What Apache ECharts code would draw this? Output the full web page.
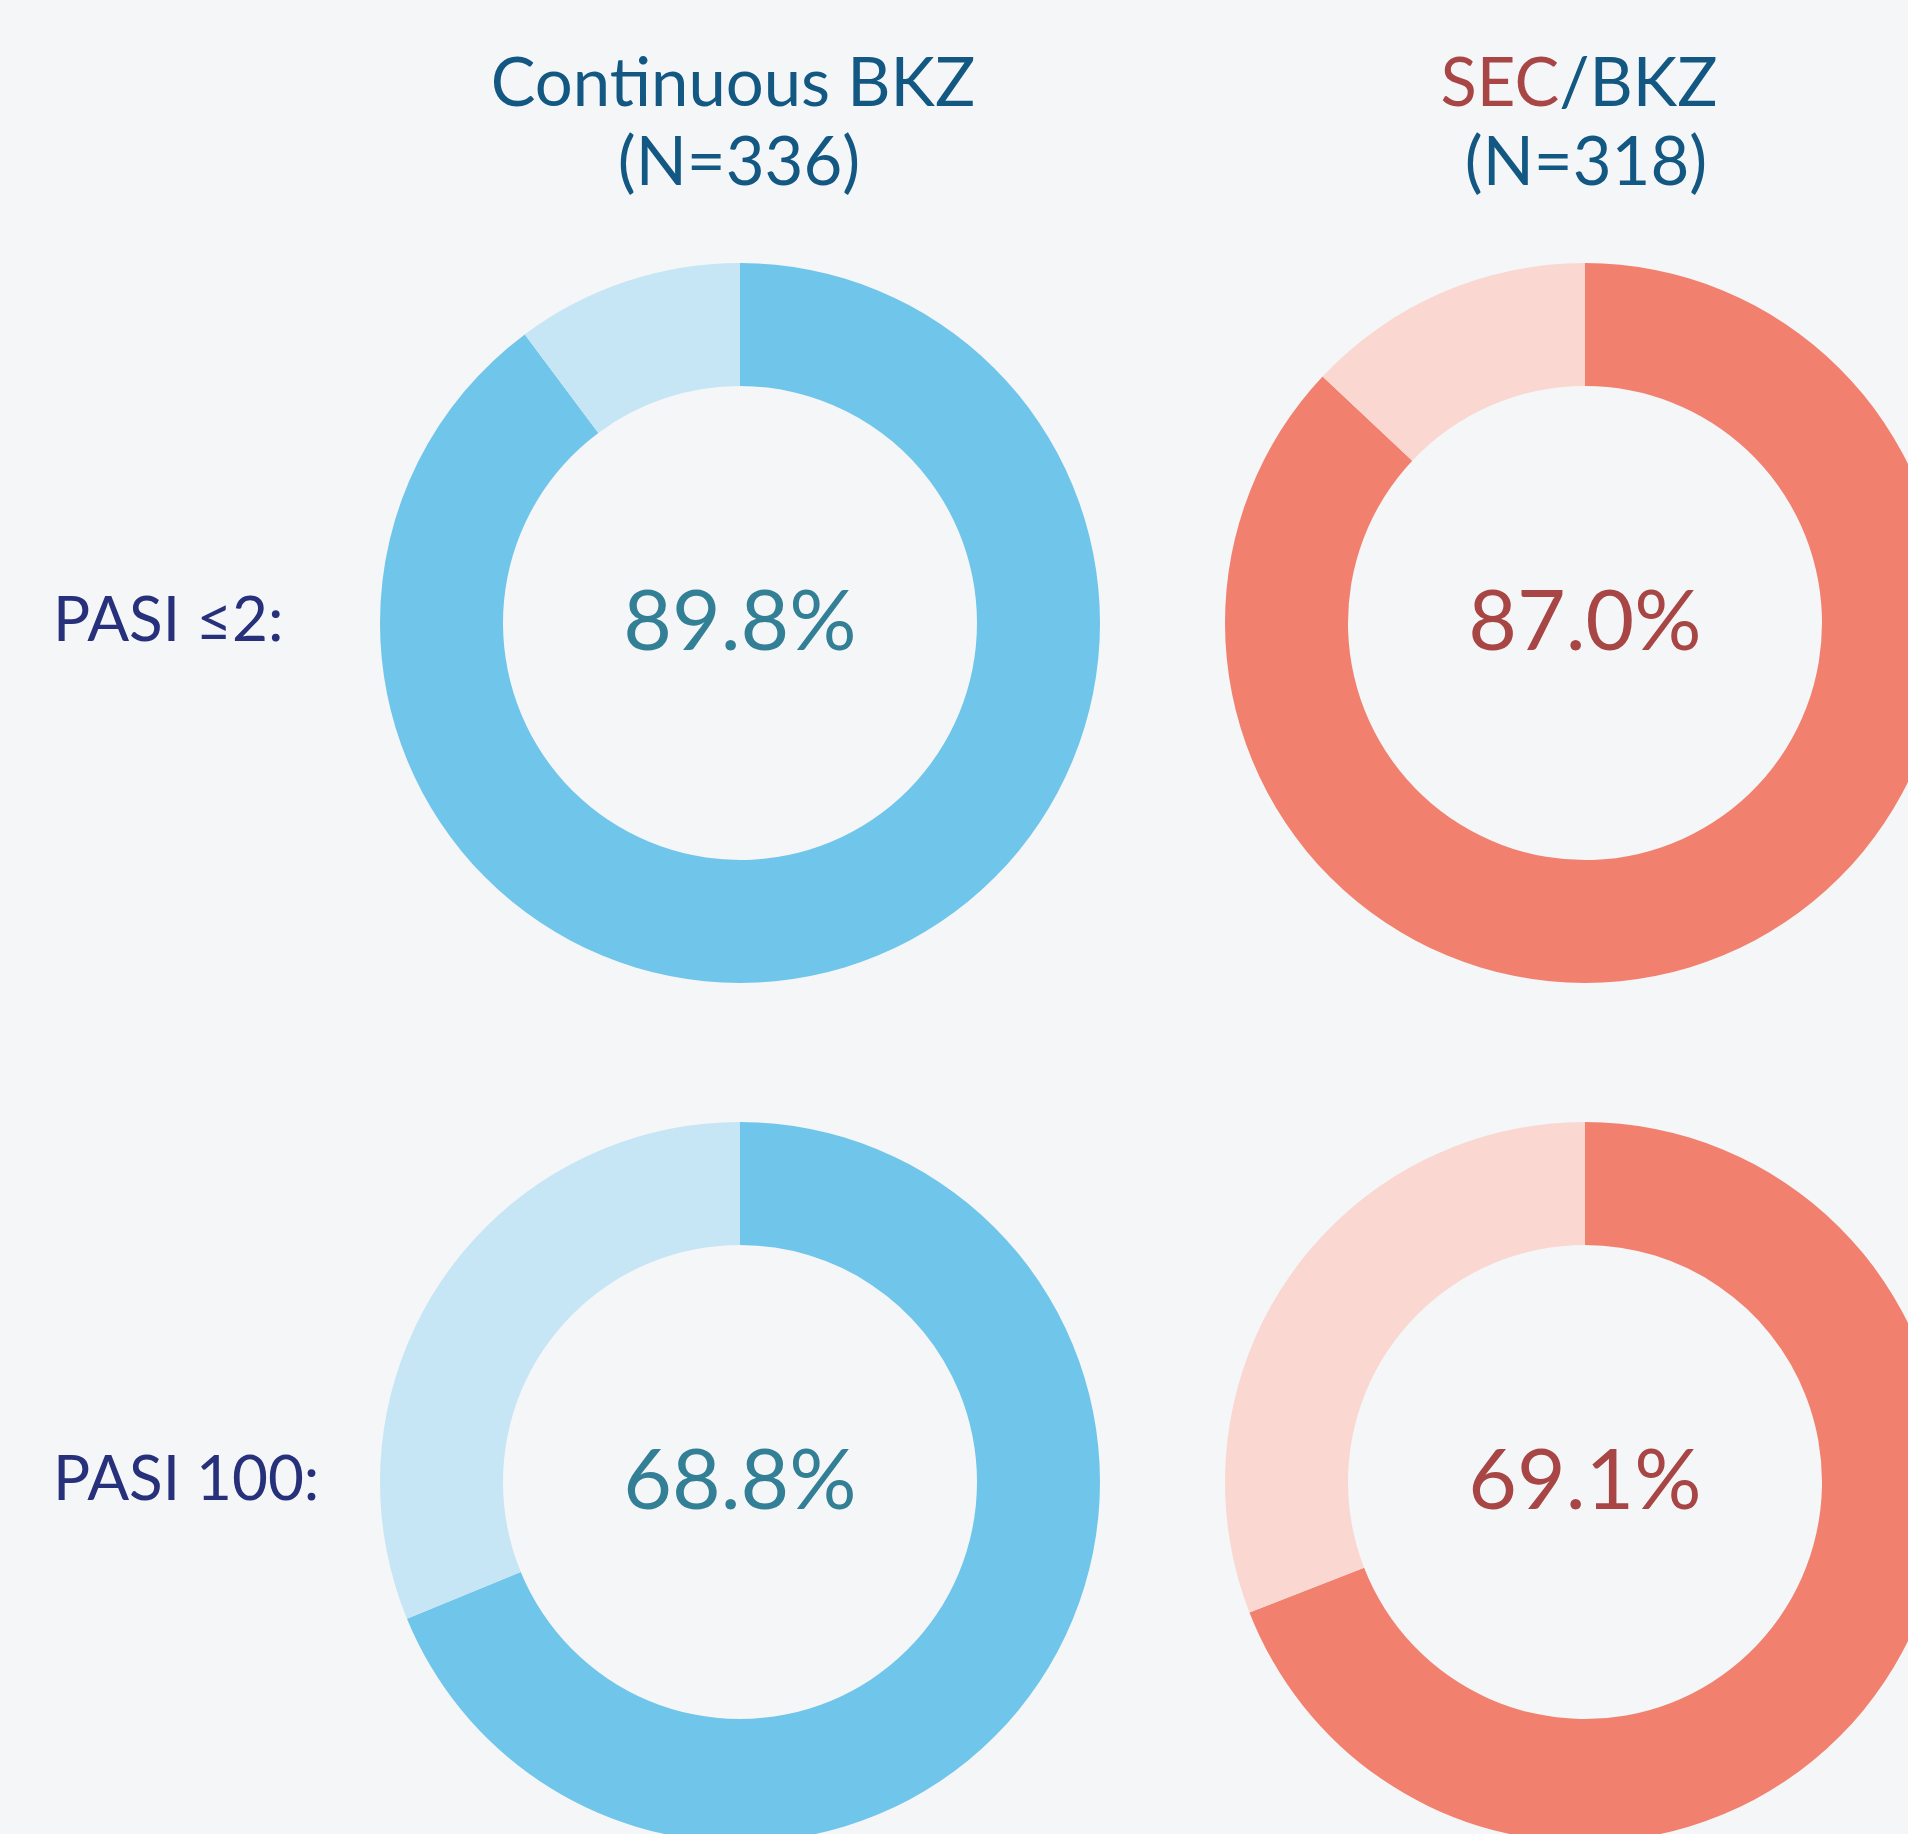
<!DOCTYPE html>
<html>
<head>
<meta charset="utf-8">
<script src="https://cdn.jsdelivr.net/npm/echarts@6/dist/echarts.min.js"></script>
<style>
  html, body { margin: 0; padding: 0; background: #f4f6f8; }
  #chart { width: 1908px; height: 1834px; }
</style>
</head>
<body>
<div id="chart"></div>
<script>
// groups (columns)
var groups = ['Continuous BKZ', 'SEC/BKZ'];
var groupN = [336, 318];
// endpoints (rows)
var endpoints = ['PASI \u22642:', 'PASI 100:'];
// response rates, % per endpoint per group
var rateContinuous = [89.8, 68.8];
var rateSec = [87.0, 69.1];

var FONT = 'Lato, "Open Sans", sans-serif';
var colX = [740, 1585];
var rowY = [623, 1482];
var palettes = [
    { main: '#6fc5ea', rest: '#c6e5f5', text: '#337f96' },
    { main: '#f2806f', rest: '#fad7d0', text: '#a84646' }
];
var rates = [rateContinuous, rateSec];

var TSIZE = 67;
function richStyle() {
    return {
        fontFamily: FONT, fontSize: TSIZE, fontWeight: 'normal', color: '#125882',
        rich: {
            r: { fontFamily: FONT, fontSize: TSIZE, fontWeight: 'normal', color: '#a84646' },
            b: { fontFamily: FONT, fontSize: TSIZE, fontWeight: 'normal', color: '#125882' }
        }
    };
}

var titles = [];
//列标题，两行分开放
titles.push({ text: groups[0], left: colX[0] - 12, top: 46, textAlign: 'center', textStyle: richStyle() });
titles.push({ text: '(N=' + groupN[0] + ')', left: colX[0] - 6, top: 125, textAlign: 'center', textStyle: richStyle() });
titles.push({ text: '{r|SEC}{b|/BKZ}', left: colX[1] - 11, top: 46, textAlign: 'center', textStyle: richStyle() });
titles.push({ text: '(N=' + groupN[1] + ')', left: colX[1] - 4, top: 125, textAlign: 'center', textStyle: richStyle() });
//行标签
endpoints.forEach(function (lab, i) {
    titles.push({
        text: lab, left: 48, top: rowY[i] - 38,
        textStyle: { fontFamily: FONT, fontSize: 62, fontWeight: 'normal', color: '#27307a' }
    });
});

var series = [];
for (var g = 0; g < 2; g++) {
    for (var r = 0; r < 2; r++) {
        var v = rates[g][r];
        var pal = palettes[g];
        series.push({
            type: 'pie',
            center: [colX[g], rowY[r]],
            radius: [237, 360],
            startAngle: 90,
            clockwise: true,
            silent: true,
            avoidLabelOverlap: false,
            labelLine: { show: false },
            data: [
                {
                    value: v,
                    itemStyle: { color: pal.main },
                    label: {
                        show: true, position: 'center',
                        formatter: function (p) { return p.value.toFixed(1) + '%'; },
                        fontFamily: FONT, fontSize: 84, color: pal.text
                    }
                },
                {
                    value: +(100 - v).toFixed(1),
                    itemStyle: { color: pal.rest },
                    label: { show: false }
                }
            ]
        });
    }
}

var chart = echarts.init(document.getElementById('chart'));
chart.setOption({
    backgroundColor: '#f4f6f8',
    animation: false,
    title: titles,
    series: series
});
</script>
</body>
</html>
